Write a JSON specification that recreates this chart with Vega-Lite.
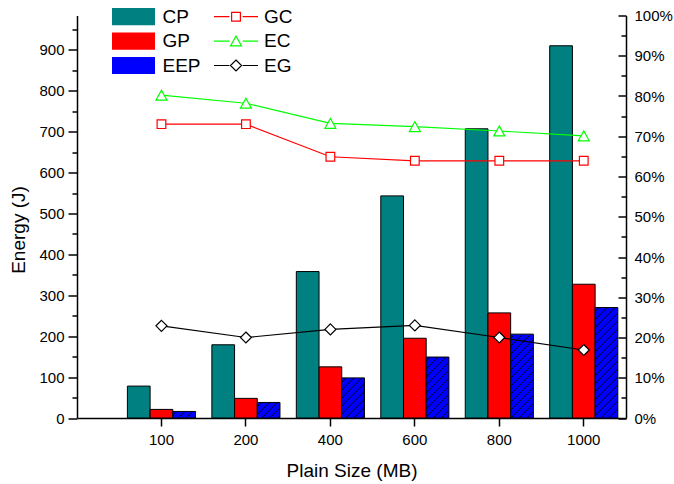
{
  "$schema": "https://vega.github.io/schema/vega-lite/v6.json",
  "width": 549,
  "height": 402.5,
  "autosize": {"type": "none"},
  "padding": {"left": 77, "top": 15.5, "right": 48, "bottom": 66},
  "config": {
    "font": "Liberation Sans",
    "view": {"stroke": null},
    "axis": {"labelFont": "Liberation Sans", "titleFont": "Liberation Sans", "labelColor": "black", "titleColor": "black", "domainColor": "black", "tickColor": "black", "domainWidth": 1.5, "tickWidth": 1.5, "labelFontSize": 15, "titleFontSize": 19, "titleFontWeight": "normal", "grid": false},
    "legend": {"labelFont": "Liberation Sans", "labelColor": "black", "labelFontSize": 19, "padding": 0}
  },
  "datasets": {
    "bars": [
      {"size": "100", "series": "CP", "energy": 78},
      {"size": "100", "series": "GP", "energy": 21},
      {"size": "100", "series": "EEP", "energy": 16},
      {"size": "200", "series": "CP", "energy": 179},
      {"size": "200", "series": "GP", "energy": 48},
      {"size": "200", "series": "EEP", "energy": 38},
      {"size": "400", "series": "CP", "energy": 358},
      {"size": "400", "series": "GP", "energy": 125},
      {"size": "400", "series": "EEP", "energy": 98},
      {"size": "600", "series": "CP", "energy": 543},
      {"size": "600", "series": "GP", "energy": 195},
      {"size": "600", "series": "EEP", "energy": 149},
      {"size": "800", "series": "CP", "energy": 707},
      {"size": "800", "series": "GP", "energy": 257},
      {"size": "800", "series": "EEP", "energy": 205},
      {"size": "1000", "series": "CP", "energy": 910},
      {"size": "1000", "series": "GP", "energy": 327},
      {"size": "1000", "series": "EEP", "energy": 270}
    ],
    "ratios": [
      {"size": "100", "metric": "GC", "ratio": 0.73},
      {"size": "200", "metric": "GC", "ratio": 0.73},
      {"size": "400", "metric": "GC", "ratio": 0.649},
      {"size": "600", "metric": "GC", "ratio": 0.639},
      {"size": "800", "metric": "GC", "ratio": 0.639},
      {"size": "1000", "metric": "GC", "ratio": 0.639},
      {"size": "100", "metric": "EC", "ratio": 0.802},
      {"size": "200", "metric": "EC", "ratio": 0.782},
      {"size": "400", "metric": "EC", "ratio": 0.732},
      {"size": "600", "metric": "EC", "ratio": 0.724},
      {"size": "800", "metric": "EC", "ratio": 0.713},
      {"size": "1000", "metric": "EC", "ratio": 0.701},
      {"size": "100", "metric": "EG", "ratio": 0.229},
      {"size": "200", "metric": "EG", "ratio": 0.2},
      {"size": "400", "metric": "EG", "ratio": 0.22},
      {"size": "600", "metric": "EG", "ratio": 0.23},
      {"size": "800", "metric": "EG", "ratio": 0.2},
      {"size": "1000", "metric": "EG", "ratio": 0.169}
    ]
  },
  "encoding": {
    "x": {
      "field": "size", "type": "ordinal",
      "sort": ["100", "200", "400", "600", "800", "1000"],
      "scale": {"paddingInner": 0, "paddingOuter": 0.25, "align": 1},
      "axis": {"title": "Plain Size (MB)", "labelAngle": 0, "tickSize": 8, "labelPadding": 6, "titleBaseline": "alphabetic", "titleY": 58}
    }
  },
  "layer": [
    {
      "data": {"name": "bars"},
      "mark": {"type": "bar", "stroke": "black", "strokeWidth": 1},
      "encoding": {
        "xOffset": {"field": "series", "type": "nominal", "sort": ["CP", "GP", "EEP"], "scale": {"paddingInner": 0, "paddingOuter": 0.36}},
        "y": {
          "field": "energy", "type": "quantitative",
          "scale": {"domain": [0, 984], "nice": false},
          "axis": {
            "title": "Energy (J)",
            "values": [0, 50, 100, 150, 200, 250, 300, 350, 400, 450, 500, 550, 600, 650, 700, 750, 800, 850, 900, 950],
            "labelExpr": "datum.value % 100 === 0 ? datum.label : ''",
            "tickSize": {"condition": {"test": "datum.value % 100 === 0", "value": 9}, "value": 5},
            "labelPadding": 4,
            "titleBaseline": "alphabetic",
            "titleX": -53,
            "titleY": 214
          }
        },
        "fill": {
          "condition": [
            {"test": "datum.series === 'EEP' && datum.size === '100'", "value": {"gradient": "linear", "x1": 0, "y1": 0, "x2": 1.189, "y2": 0.343, "stops": [
              {"offset": 0.106, "color": "#0000FF"}, {"offset": 0.137, "color": "#000000"}, {"offset": 0.168, "color": "#0000FF"},
              {"offset": 0.379, "color": "#0000FF"}, {"offset": 0.41, "color": "#000000"}, {"offset": 0.441, "color": "#0000FF"},
              {"offset": 0.653, "color": "#0000FF"}, {"offset": 0.684, "color": "#000000"}, {"offset": 0.715, "color": "#0000FF"},
              {"offset": 0.927, "color": "#0000FF"}, {"offset": 0.958, "color": "#000000"}, {"offset": 0.989, "color": "#0000FF"}]}},
            {"test": "datum.series === 'EEP' && datum.size === '200'", "value": {"gradient": "linear", "x1": 0, "y1": 0, "x2": 1.147, "y2": 0.785, "stops": [
              {"offset": 0.081, "color": "#0000FF"}, {"offset": 0.105, "color": "#000000"}, {"offset": 0.128, "color": "#0000FF"},
              {"offset": 0.29, "color": "#0000FF"}, {"offset": 0.314, "color": "#000000"}, {"offset": 0.337, "color": "#0000FF"},
              {"offset": 0.5, "color": "#0000FF"}, {"offset": 0.523, "color": "#000000"}, {"offset": 0.547, "color": "#0000FF"},
              {"offset": 0.709, "color": "#0000FF"}, {"offset": 0.732, "color": "#000000"}, {"offset": 0.756, "color": "#0000FF"},
              {"offset": 0.918, "color": "#0000FF"}, {"offset": 0.941, "color": "#000000"}, {"offset": 0.965, "color": "#0000FF"}]}},
            {"test": "datum.series === 'EEP' && datum.size === '400'", "value": {"gradient": "linear", "x1": 0, "y1": 0, "x2": 0.6715, "y2": 1.186, "stops": [
              {"offset": 0.049, "color": "#0000FF"}, {"offset": 0.064, "color": "#000000"}, {"offset": 0.078, "color": "#0000FF"},
              {"offset": 0.177, "color": "#0000FF"}, {"offset": 0.191, "color": "#000000"}, {"offset": 0.205, "color": "#0000FF"},
              {"offset": 0.304, "color": "#0000FF"}, {"offset": 0.319, "color": "#000000"}, {"offset": 0.333, "color": "#0000FF"},
              {"offset": 0.432, "color": "#0000FF"}, {"offset": 0.446, "color": "#000000"}, {"offset": 0.46, "color": "#0000FF"},
              {"offset": 0.559, "color": "#0000FF"}, {"offset": 0.573, "color": "#000000"}, {"offset": 0.588, "color": "#0000FF"},
              {"offset": 0.686, "color": "#0000FF"}, {"offset": 0.701, "color": "#000000"}, {"offset": 0.715, "color": "#0000FF"},
              {"offset": 0.814, "color": "#0000FF"}, {"offset": 0.828, "color": "#000000"}, {"offset": 0.843, "color": "#0000FF"},
              {"offset": 0.941, "color": "#0000FF"}, {"offset": 0.956, "color": "#000000"}, {"offset": 0.97, "color": "#0000FF"}]}},
            {"test": "datum.series === 'EEP' && datum.size === '600'", "value": {"gradient": "linear", "x1": 0, "y1": 0, "x2": 0.4489, "y2": 1.2053, "stops": [
              {"offset": 0.037, "color": "#0000FF"}, {"offset": 0.048, "color": "#000000"}, {"offset": 0.059, "color": "#0000FF"},
              {"offset": 0.133, "color": "#0000FF"}, {"offset": 0.143, "color": "#000000"}, {"offset": 0.154, "color": "#0000FF"},
              {"offset": 0.228, "color": "#0000FF"}, {"offset": 0.239, "color": "#000000"}, {"offset": 0.25, "color": "#0000FF"},
              {"offset": 0.324, "color": "#0000FF"}, {"offset": 0.335, "color": "#000000"}, {"offset": 0.345, "color": "#0000FF"},
              {"offset": 0.42, "color": "#0000FF"}, {"offset": 0.43, "color": "#000000"}, {"offset": 0.441, "color": "#0000FF"},
              {"offset": 0.515, "color": "#0000FF"}, {"offset": 0.526, "color": "#000000"}, {"offset": 0.537, "color": "#0000FF"},
              {"offset": 0.611, "color": "#0000FF"}, {"offset": 0.622, "color": "#000000"}, {"offset": 0.632, "color": "#0000FF"},
              {"offset": 0.707, "color": "#0000FF"}, {"offset": 0.717, "color": "#000000"}, {"offset": 0.728, "color": "#0000FF"},
              {"offset": 0.802, "color": "#0000FF"}, {"offset": 0.813, "color": "#000000"}, {"offset": 0.824, "color": "#0000FF"},
              {"offset": 0.898, "color": "#0000FF"}, {"offset": 0.909, "color": "#000000"}, {"offset": 0.919, "color": "#0000FF"}]}},
            {"test": "datum.series === 'EEP' && datum.size === '800'", "value": {"gradient": "linear", "x1": 0, "y1": 0, "x2": 0.3205, "y2": 1.1839, "stops": [
              {"offset": 0.029, "color": "#0000FF"}, {"offset": 0.038, "color": "#000000"}, {"offset": 0.046, "color": "#0000FF"},
              {"offset": 0.104, "color": "#0000FF"}, {"offset": 0.113, "color": "#000000"}, {"offset": 0.121, "color": "#0000FF"},
              {"offset": 0.179, "color": "#0000FF"}, {"offset": 0.188, "color": "#000000"}, {"offset": 0.196, "color": "#0000FF"},
              {"offset": 0.254, "color": "#0000FF"}, {"offset": 0.263, "color": "#000000"}, {"offset": 0.271, "color": "#0000FF"},
              {"offset": 0.329, "color": "#0000FF"}, {"offset": 0.338, "color": "#000000"}, {"offset": 0.346, "color": "#0000FF"},
              {"offset": 0.404, "color": "#0000FF"}, {"offset": 0.413, "color": "#000000"}, {"offset": 0.421, "color": "#0000FF"},
              {"offset": 0.48, "color": "#0000FF"}, {"offset": 0.488, "color": "#000000"}, {"offset": 0.497, "color": "#0000FF"},
              {"offset": 0.555, "color": "#0000FF"}, {"offset": 0.563, "color": "#000000"}, {"offset": 0.572, "color": "#0000FF"},
              {"offset": 0.63, "color": "#0000FF"}, {"offset": 0.638, "color": "#000000"}, {"offset": 0.647, "color": "#0000FF"},
              {"offset": 0.705, "color": "#0000FF"}, {"offset": 0.713, "color": "#000000"}, {"offset": 0.722, "color": "#0000FF"},
              {"offset": 0.78, "color": "#0000FF"}, {"offset": 0.788, "color": "#000000"}, {"offset": 0.797, "color": "#0000FF"},
              {"offset": 0.855, "color": "#0000FF"}, {"offset": 0.863, "color": "#000000"}, {"offset": 0.872, "color": "#0000FF"},
              {"offset": 0.93, "color": "#0000FF"}, {"offset": 0.938, "color": "#000000"}, {"offset": 0.947, "color": "#0000FF"}]}},
            {"test": "datum.series === 'EEP' && datum.size === '1000'", "value": {"gradient": "linear", "x1": 0, "y1": 0, "x2": 0.2377, "y2": 1.1567, "stops": [
              {"offset": 0.023, "color": "#0000FF"}, {"offset": 0.03, "color": "#000000"}, {"offset": 0.037, "color": "#0000FF"},
              {"offset": 0.083, "color": "#0000FF"}, {"offset": 0.09, "color": "#000000"}, {"offset": 0.097, "color": "#0000FF"},
              {"offset": 0.143, "color": "#0000FF"}, {"offset": 0.15, "color": "#000000"}, {"offset": 0.157, "color": "#0000FF"},
              {"offset": 0.204, "color": "#0000FF"}, {"offset": 0.21, "color": "#000000"}, {"offset": 0.217, "color": "#0000FF"},
              {"offset": 0.264, "color": "#0000FF"}, {"offset": 0.27, "color": "#000000"}, {"offset": 0.277, "color": "#0000FF"},
              {"offset": 0.324, "color": "#0000FF"}, {"offset": 0.331, "color": "#000000"}, {"offset": 0.337, "color": "#0000FF"},
              {"offset": 0.384, "color": "#0000FF"}, {"offset": 0.391, "color": "#000000"}, {"offset": 0.397, "color": "#0000FF"},
              {"offset": 0.444, "color": "#0000FF"}, {"offset": 0.451, "color": "#000000"}, {"offset": 0.457, "color": "#0000FF"},
              {"offset": 0.504, "color": "#0000FF"}, {"offset": 0.511, "color": "#000000"}, {"offset": 0.518, "color": "#0000FF"},
              {"offset": 0.564, "color": "#0000FF"}, {"offset": 0.571, "color": "#000000"}, {"offset": 0.578, "color": "#0000FF"},
              {"offset": 0.624, "color": "#0000FF"}, {"offset": 0.631, "color": "#000000"}, {"offset": 0.638, "color": "#0000FF"},
              {"offset": 0.684, "color": "#0000FF"}, {"offset": 0.691, "color": "#000000"}, {"offset": 0.698, "color": "#0000FF"},
              {"offset": 0.744, "color": "#0000FF"}, {"offset": 0.751, "color": "#000000"}, {"offset": 0.758, "color": "#0000FF"},
              {"offset": 0.804, "color": "#0000FF"}, {"offset": 0.811, "color": "#000000"}, {"offset": 0.818, "color": "#0000FF"},
              {"offset": 0.865, "color": "#0000FF"}, {"offset": 0.871, "color": "#000000"}, {"offset": 0.878, "color": "#0000FF"},
              {"offset": 0.925, "color": "#0000FF"}, {"offset": 0.931, "color": "#000000"}, {"offset": 0.938, "color": "#0000FF"},
              {"offset": 0.985, "color": "#0000FF"}, {"offset": 0.991, "color": "#000000"}, {"offset": 0.998, "color": "#0000FF"}]}}
          ],
          "field": "series", "type": "nominal",
          "scale": {"domain": ["CP", "GP", "EEP"], "range": ["#008080", "#FF0000", "#0000FF"]},
          "legend": {
            "title": null, "orient": "none", "legendX": 34.5, "legendY": -8.8, "symbolType": "M-1,-0.4H1V0.4H-1Z", "symbolSize": 1849, "symbolStrokeColor": "black", "symbolStrokeWidth": 1, "symbolOpacity": 1, "labelOffset": 7, "rowPadding": 4.4, "clipHeight": 20,
            "encode": {"symbols": {"update": {"fill": [
              {"test": "datum.value === 'EEP'", "value": {"gradient": "linear", "x1": 0, "y1": 0, "x2": 1.207, "y2": 0.4828, "stops": [
                {"offset": 0.051, "color": "#0000FF"}, {"offset": 0.066, "color": "#000000"}, {"offset": 0.081, "color": "#0000FF"},
                {"offset": 0.184, "color": "#0000FF"}, {"offset": 0.199, "color": "#000000"}, {"offset": 0.214, "color": "#0000FF"},
                {"offset": 0.317, "color": "#0000FF"}, {"offset": 0.332, "color": "#000000"}, {"offset": 0.347, "color": "#0000FF"},
                {"offset": 0.45, "color": "#0000FF"}, {"offset": 0.465, "color": "#000000"}, {"offset": 0.48, "color": "#0000FF"},
                {"offset": 0.583, "color": "#0000FF"}, {"offset": 0.598, "color": "#000000"}, {"offset": 0.613, "color": "#0000FF"},
                {"offset": 0.716, "color": "#0000FF"}, {"offset": 0.731, "color": "#000000"}, {"offset": 0.746, "color": "#0000FF"},
                {"offset": 0.849, "color": "#0000FF"}, {"offset": 0.864, "color": "#000000"}, {"offset": 0.879, "color": "#0000FF"}]}},
              {"scale": "fill", "field": "value"}
            ]}}}
          }
        }
      }
    },
    {
      "data": {"name": "ratios"},
      "encoding": {
        "y": {
          "field": "ratio", "type": "quantitative",
          "scale": {"domain": [0, 1], "nice": false},
          "axis": {
            "orient": "right", "title": null, "format": ".0%",
            "values": [0, 0.05, 0.1, 0.15, 0.2, 0.25, 0.3, 0.35, 0.4, 0.45, 0.5, 0.55, 0.6, 0.65, 0.7, 0.75, 0.8, 0.85, 0.9, 0.95, 1],
            "labelExpr": "round(datum.value * 100) % 10 === 0 ? datum.label : ''",
            "tickSize": {"condition": {"test": "round(datum.value * 100) % 10 === 0", "value": -8}, "value": -5},
            "labelPadding": 16
          }
        },
        "stroke": {
          "field": "metric", "type": "nominal",
          "scale": {"domain": ["GC", "EC", "EG"], "range": ["#FF0000", "#00FF00", "#000000"]},
          "legend": {
            "title": null, "orient": "none", "legendX": 136, "legendY": -8.8, "symbolSize": 1936, "labelOffset": 5, "rowPadding": 4.4, "clipHeight": 20,
            "encode": {"symbols": {"update": {
              "shape": {"signal": "datum.value === 'GC' ? 'M-1,0H-0.3M0.3,0H1M-0.2,-0.2H0.2V0.2H-0.2Z' : datum.value === 'EC' ? 'M-1,0H-0.3M0.3,0H1M0,-0.23L0.25,0.22H-0.25Z' : 'M-1,0H-0.3M0.3,0H1M0,-0.25L0.25,0L0,0.25L-0.25,0Z'"},
              "size": {"value": 1936},
              "stroke": {"scale": "stroke", "field": "value"},
              "fill": {"value": "white"},
              "fillOpacity": {"value": 1},
              "strokeWidth": {"value": 1.2},
              "opacity": {"value": 1}
            }}}
          }
        }
      },
      "layer": [
        {"mark": {"type": "line", "strokeWidth": 1.2}},
        {
          "transform": [{"filter": "datum.metric === 'GC'"}],
          "mark": {"type": "point", "shape": "M-0.79,-0.79H0.79V0.79H-0.79Z", "filled": false, "fill": "white", "fillOpacity": 1, "strokeWidth": 1.2, "opacity": 1, "size": 121}
        },
        {
          "transform": [{"filter": "datum.metric === 'EC'"}],
          "mark": {"type": "point", "shape": "M0,-0.9L1,0.9H-1Z", "filled": false, "fill": "white", "fillOpacity": 1, "strokeWidth": 1.2, "opacity": 1, "size": 121}
        },
        {
          "transform": [{"filter": "datum.metric === 'EG'"}],
          "mark": {"type": "point", "shape": "M0,-1L1,0L0,1L-1,0Z", "filled": false, "fill": "white", "fillOpacity": 1, "strokeWidth": 1.2, "opacity": 1, "size": 121}
        }
      ]
    }
  ],
  "resolve": {"scale": {"y": "independent"}}
}
